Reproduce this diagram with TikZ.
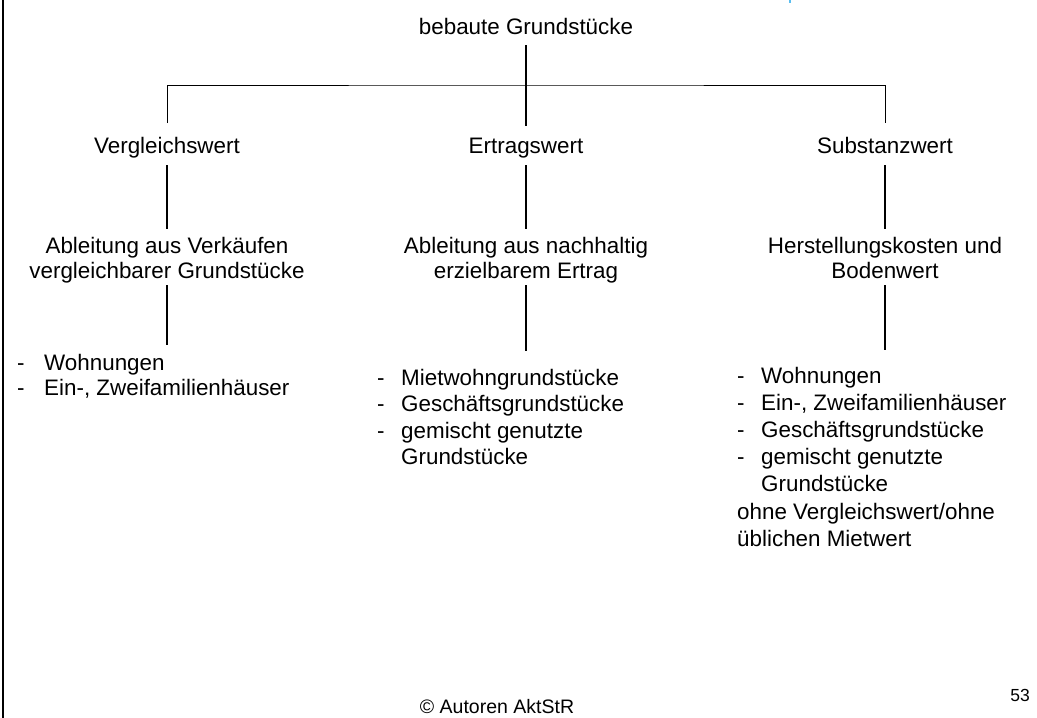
\documentclass[tikz,border=0pt]{standalone}
\usepackage{fontspec}
\setmainfont{Liberation Sans}
\usetikzlibrary{calc}
\definecolor{markblue}{RGB}{90,190,240}
\begin{document}
\begin{tikzpicture}[x=1pt,y=-1pt,
  txt/.style={inner sep=0pt, anchor=base, font=\fontsize{22.4}{25}\selectfont},
  listbox/.style={inner sep=0pt, anchor=base west},
  trunk/.style={line width=2pt},
  branch/.style={line width=1pt},
  foot/.style={inner sep=0pt, anchor=base, font=\fontsize{19.5}{23}\selectfont}]
\useasboundingbox (0,0) rectangle (1037,718);

% page frame edge and corner mark
\draw[line width=2.5pt] (3,0) -- (3,718);
\fill[markblue] (789,0) rectangle (791,3);

% root
\node[txt] (root) at (526,34) {bebaute Grundstücke};

% valuation methods
\node[txt] (vw) at (167,153) {Vergleichswert};
\node[txt] (ew) at (526,153) {Ertragswert};
\node[txt] (sw) at (885,153) {Substanzwert};

% derivation of each method
\node[txt] (vd) at (167,253) {\begin{tabular}[t]{@{}c@{}}Ableitung aus Verkäufen\\vergleichbarer Grundstücke\end{tabular}};
\node[txt] (ed) at (526,253) {\begin{tabular}[t]{@{}c@{}}Ableitung aus nachhaltig\\erzielbarem Ertrag\end{tabular}};
\node[txt] (sd) at (885,253) {\begin{tabular}[t]{@{}c@{}}Herstellungskosten und\\Bodenwert\end{tabular}};

% property types
\node[listbox, font=\fontsize{22.4}{25}\selectfont] (vl) at (17,370)
  {\begin{tabular}[t]{@{}l@{}}\makebox[27pt][l]{-}Wohnungen\\\makebox[27pt][l]{-}Ein-, Zweifamilienhäuser\end{tabular}};
\node[listbox, font=\fontsize{22.4}{26.5}\selectfont] (el) at (377,385)
  {\begin{tabular}[t]{@{}l@{}}\makebox[24pt][l]{-}Mietwohngrundstücke\\\makebox[24pt][l]{-}Geschäftsgrundstücke\\\makebox[24pt][l]{-}gemischt genutzte\\\hspace*{24pt}Grundstücke\end{tabular}};
\node[listbox, font=\fontsize{22.4}{27.2}\selectfont] (sl) at (737,383)
  {\begin{tabular}[t]{@{}l@{}}\makebox[24pt][l]{-}Wohnungen\\\makebox[24pt][l]{-}Ein-, Zweifamilienhäuser\\\makebox[24pt][l]{-}Geschäftsgrundstücke\\\makebox[24pt][l]{-}gemischt genutzte\\\hspace*{24pt}Grundstücke\\ohne Vergleichswert/ohne\\üblichen Mietwert\end{tabular}};

% tree connectors
\coordinate (hub) at (root.base |- 0,85);
\draw[trunk] ([yshift=-11pt]root.base) -- ([yshift=27pt]ew.base);
\draw[branch] ([yshift=30pt]vw.base) |- (hub) -| ([yshift=30pt]sw.base);

\draw[trunk] ([yshift=-12pt]vw.base) -- ([yshift=24pt]vd.base);
\draw[trunk] ([yshift=-12pt]ew.base) -- ([yshift=24pt]ed.base);
\draw[trunk] ([yshift=-12pt]sw.base) -- ([yshift=24pt]sd.base);

\draw[trunk] ([yshift=-32pt]vd.base) -- ($(vd.base |- vl.base)+(0,-25)$);
\draw[trunk] ([yshift=-32pt]ed.base) -- ($(ed.base |- el.base)+(0,-34)$);
\draw[trunk] ([yshift=-32pt]sd.base) -- ($(sd.base |- sl.base)+(0,-33)$);

% footer
\node[foot] (copy) at (497,713) {© Autoren AktStR};
\node[foot, font=\fontsize{17.5}{20}\selectfont] (page) at (1020,701) {53};
\end{tikzpicture}
\end{document}
